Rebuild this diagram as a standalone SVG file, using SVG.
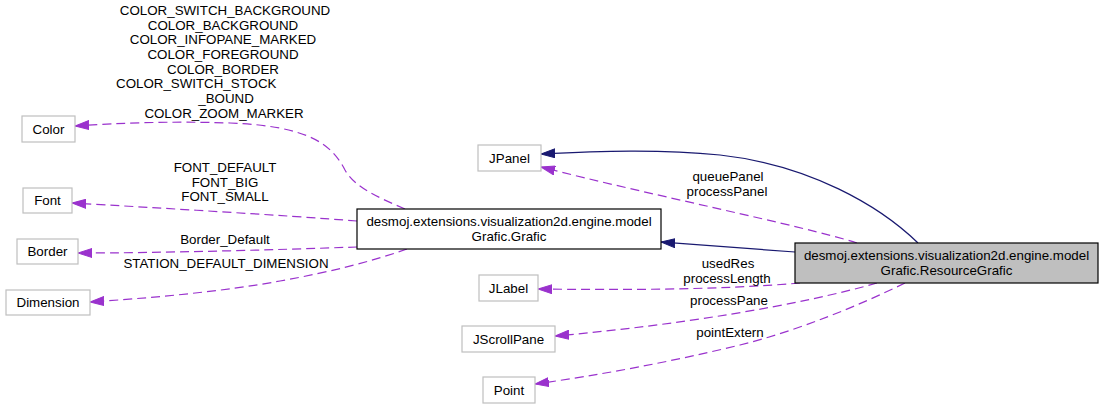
<svg xmlns="http://www.w3.org/2000/svg" width="1104" height="408" viewBox="0 0 1104 408">
<style>
text{font-family:"Liberation Sans",Arial,sans-serif;font-size:13.33px;fill:#000;text-anchor:middle}
.ext{fill:#fff;stroke:#bfbfbf;stroke-width:1.2}
.main{fill:#fff;stroke:#000;stroke-width:1.2}
.cur{fill:#bfbfbf;stroke:#000;stroke-width:1.2}
.inh{fill:none;stroke:#191970;stroke-width:1.2}
.use{fill:none;stroke:#9a32cd;stroke-width:1.2;stroke-dasharray:9,5}
.lbl text{font-size:13.33px}
</style>
<defs>
<marker id="aNavy" viewBox="0 0 14 10" refX="14" refY="5" markerWidth="14" markerHeight="10" markerUnits="userSpaceOnUse" orient="auto">
<path d="M0,0.5 L14,5 L0,9.5 z" fill="#191970" stroke="#191970"/>
</marker>
<marker id="aPurple" viewBox="0 0 14 10" refX="14" refY="5" markerWidth="14" markerHeight="10" markerUnits="userSpaceOnUse" orient="auto">
<path d="M0,0.5 L14,5 L0,9.5 z" fill="#9a32cd" stroke="#9a32cd"/>
</marker>
</defs>
<rect width="1104" height="408" fill="#fff"/>
<g id="connectors">
<path class="inh" d="M918,243 C880,206 810,165 720,155 C660,149 600,151 541,154" marker-end="url(#aNavy)"/>
<path class="inh" d="M795,252 C760,249 710,246 661,242" marker-end="url(#aNavy)"/>
<path class="use" d="M857,243 C800,225 650,195 541,167" marker-end="url(#aPurple)"/>
<path class="use" d="M405,209 C380,198 355,188 345,170 C332,145 310,126 230,123 C170,121 120,123 75,126" marker-end="url(#aPurple)"/>
<path class="use" d="M357,221 C280,215 160,208 72,203" marker-end="url(#aPurple)"/>
<path class="use" d="M357,247 C270,250 160,253 78,253" marker-end="url(#aPurple)"/>
<path class="use" d="M407,249 C370,262 330,272 280,281 C220,292 150,298 90,302" marker-end="url(#aPurple)"/>
<path class="use" d="M800,283 C720,290 620,290 538,289" marker-end="url(#aPurple)"/>
<path class="use" d="M877,283 C800,305 680,325 555,336" marker-end="url(#aPurple)"/>
<path class="use" d="M905,283 C860,305 800,330 740,345 C670,362 600,375 535,384" marker-end="url(#aPurple)"/>
<g class="lbl">
<text x="225" y="15">COLOR_SWITCH_BACKGROUND</text>
<text x="223" y="30">COLOR_BACKGROUND</text>
<text x="223" y="44">COLOR_INFOPANE_MARKED</text>
<text x="223" y="59">COLOR_FOREGROUND</text>
<text x="223" y="74">COLOR_BORDER</text>
<text x="116" y="88" style="text-anchor:start">COLOR_SWITCH_STOCK</text>
<text x="226" y="103">_BOUND</text>
<text x="224" y="118">COLOR_ZOOM_MARKER</text>
<text x="225" y="172">FONT_DEFAULT</text>
<text x="225" y="187">FONT_BIG</text>
<text x="225" y="201">FONT_SMALL</text>
<text x="225" y="244">Border_Default</text>
<text x="226" y="268">STATION_DEFAULT_DIMENSION</text>
<text x="728" y="181">queuePanel</text>
<text x="727" y="196">processPanel</text>
<text x="728" y="268">usedRes</text>
<text x="727" y="283">processLength</text>
<text x="729" y="305">processPane</text>
<text x="730" y="337">pointExtern</text>
</g>
</g>
<g id="node-Color"><rect class="ext" x="22" y="116" width="53" height="26"/><text x="48.5" y="133.5">Color</text></g>
<g id="node-Font"><rect class="ext" x="23" y="188" width="49" height="25"/><text x="47.5" y="205">Font</text></g>
<g id="node-Border"><rect class="ext" x="17" y="239" width="61" height="25"/><text x="47.5" y="256">Border</text></g>
<g id="node-Dimension"><rect class="ext" x="6" y="290" width="84" height="25"/><text x="48" y="307">Dimension</text></g>
<g id="node-JPanel"><rect class="ext" x="478" y="145" width="63" height="26"/><text x="509.5" y="162.5">JPanel</text></g>
<g id="node-JLabel"><rect class="ext" x="479" y="275" width="59" height="26"/><text x="508.5" y="292.5">JLabel</text></g>
<g id="node-JScrollPane"><rect class="ext" x="462" y="326" width="93" height="26"/><text x="508.5" y="343.5">JScrollPane</text></g>
<g id="node-Point"><rect class="ext" x="483" y="377" width="52" height="26"/><text x="509" y="394.5">Point</text></g>
<g id="node-Grafic"><rect class="main" x="357" y="209" width="304" height="40"/><text x="509" y="226">desmoj.extensions.visualization2d.engine.model</text><text x="509" y="241">Grafic.Grafic</text></g>
<g id="node-ResourceGrafic"><rect class="cur" x="795" y="243" width="303" height="40"/><text x="946.5" y="260">desmoj.extensions.visualization2d.engine.model</text><text x="946.5" y="275">Grafic.ResourceGrafic</text></g>
</svg>
